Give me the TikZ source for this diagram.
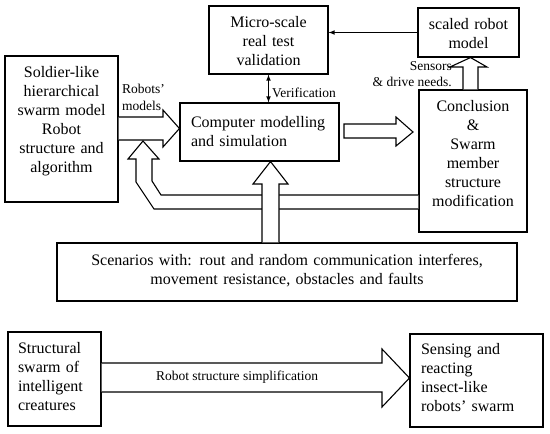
\documentclass[tikz,border=0pt]{standalone}
\usepackage{fontspec}
\setmainfont{Liberation Serif}
\usepackage{tikz}
\usetikzlibrary{arrows,calc}
\tikzset{base/.style = {rectangle, draw=black, line width=1.1pt, inner sep=0pt,
                           align=center, font=\fontsize{16}{19}\selectfont},
         lbox/.style = {base, align=left, inner xsep=11pt},
         hollow/.style = {draw=black, fill=white, line width=1.1pt, line join=miter},
         tag/.style = {inner sep=0pt, font=\fontsize{13.5}{16.5}\selectfont}}

\begin{document}
\begin{tikzpicture}[x=1pt, y=-1pt]
\useasboundingbox (0,0) rectangle (550,434);
% boxes
\node[base, text width=113pt, text height=21pt, text depth=125pt] (soldier) at (61.5,129)
  {Soldier-like\\hierarchical\\swarm model\\Robot\\structure and\\algorithm};
\node[base, text width=119pt, text height=21pt, text depth=47pt] (micro) at (268.5,40)
  {Micro-scale\\real test\\validation};
\node[lbox, text width=137pt, text height=24pt, text depth=34pt] (comp) at (259.5,132)
  {Computer modelling\\and simulation};
\node[base, text width=101pt, text height=21pt, text depth=28pt] (scaled) at (468.5,32.5)
  {scaled robot\\model};
\node[base, text width=108pt, text height=21pt, text depth=121pt] (concl) at (473,161)
  {Conclusion\\\&\\Swarm\\member\\structure\\modification};
\node[base, text width=460pt, text height=22pt, text depth=36pt] (scen) at (287,272)
  {Scenarios with: rout and random communication interferes,\\movement resistance, obstacles and faults};
\node[lbox, inner xsep=10pt, text width=73pt, text height=21pt, text depth=73pt] (struct) at (54.5,379)
  {Structural\\swarm of\\intelligent\\creatures};
\node[lbox, inner xsep=11pt, text width=111pt, text height=20pt, text depth=73pt] (sensing) at (476.5,380.5)
  {Sensing and\\reacting\\insect-like\\robots' swarm};

% thin arrows
\draw[line width=1.1pt, -latex] (scaled.west) -- (scaled.west -| micro.east);
\draw[line width=1.1pt, latex-latex] (micro.south) -- (micro.south |- comp.north);

% hollow arrows
\draw[hollow] (soldier.east |- 0,117) -- (163,117) -- (163,110) -- (comp.west |- 0,128.5)
  -- (163,147) -- (163,140) -- (soldier.east |- 0,140);
\draw[hollow] (concl.west |- 0,195) -- (161,195) -- (152,181) -- (152,159) -- (159,159)
  -- (143,141) -- (128,159) -- (136,159) -- (136,182) -- (154,209) -- (concl.west |- 0,209);
\draw[hollow] (scen.north -| 262,0) -- (262,184) -- (253,184) -- (comp.south -| 270.5,0)
  -- (288,184) -- (279,184) -- (scen.north -| 279,0);
\draw[hollow] (344,124) -- (396,124) -- (396,117) -- (413,132) -- (396,146) -- (396,138)
  -- (344,138) -- cycle;
\draw[hollow] (concl.north -| 463,0) -- (463,67) -- (450,67) -- (scaled.south -| 470.5,0)
  -- (487,67) -- (478,67) -- (concl.north -| 478,0);
\draw[hollow] (struct.east |- 0,363) -- (382,363) -- (382,349) -- (sensing.west |- 0,378)
  -- (382,407) -- (382,392) -- (struct.east |- 0,392);

% labels
\node[tag, anchor=west, align=left] (models) at (122,97.5) {Robots'\\models};
\node[tag, anchor=west] (verif) at (272,93) {Verification};
\node[tag, anchor=east, align=right] (sensors) at (452,74) {Sensors\\\& drive needs.};
\node[tag] (simpl) at (237,377) {Robot structure simplification};
\end{tikzpicture}
\end{document}
